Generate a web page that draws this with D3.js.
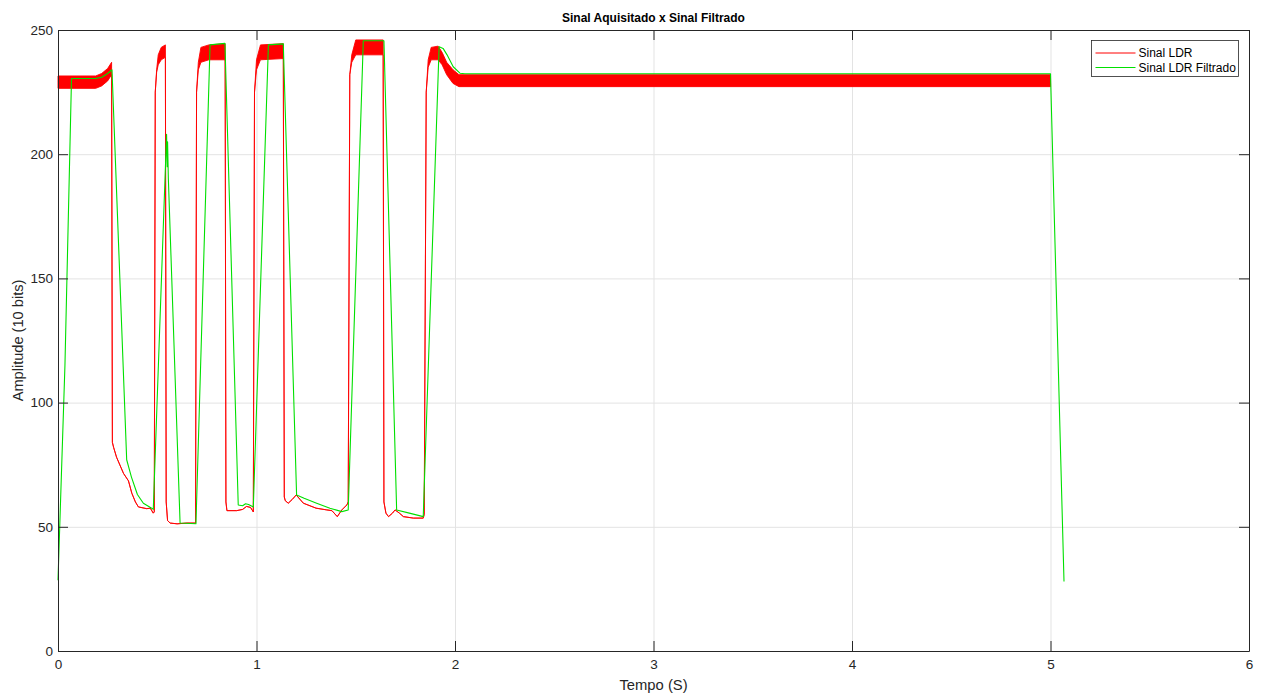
<!DOCTYPE html>
<html>
<head>
<meta charset="utf-8">
<script src="https://cdn.jsdelivr.net/npm/d3@7/dist/d3.min.js"></script>
<style>
  html, body { margin: 0; padding: 0; background: #ffffff; }
  svg { display: block; font-family: "Liberation Sans", Arial, Helvetica, sans-serif; }
</style>
</head>
<body>
<svg id="chart" width="1264" height="693"></svg>
<script>
// ---------------- DATA ----------------
const chartTitle = "Sinal Aquisitado x Sinal Filtrado";
const xLabel = "Tempo (S)";
const yLabel = "Amplitude (10 bits)";
const seriesNames = ["Sinal LDR", "Sinal LDR Filtrado"];
const xTicks = [0, 1, 2, 3, 4, 5, 6];
const yTicks = [0, 50, 100, 150, 200, 250];

// Raw LDR signal: time (s), lower and upper envelope of the noisy trace
const ldrTime = [0.000, 0.190, 0.220, 0.250, 0.270, 0.274, 0.280, 0.295, 0.330, 0.355, 0.372, 0.390, 0.405, 0.447, 0.465, 0.480, 0.485,
  0.490, 0.497, 0.505, 0.520, 0.541, 0.545, 0.552, 0.565, 0.600, 0.650, 0.693,
  0.698, 0.707, 0.720, 0.760, 0.842, 0.846, 0.851, 0.900, 0.930, 0.950, 0.970, 0.984,
  0.990, 1.000, 1.020, 1.135, 1.140, 1.145, 1.160, 1.180, 1.200, 1.236, 1.300, 1.354, 1.380, 1.407, 1.430, 1.455, 1.462,
  1.470, 1.480, 1.500, 1.638, 1.642, 1.652, 1.665, 1.685, 1.698, 1.720, 1.740, 1.790, 1.840, 1.845,
  1.855, 1.865, 1.880, 1.915, 1.935, 1.958, 1.990, 2.020, 5.000];
const ldrLow = [226.5, 226.5, 227.5, 229.5, 232.0, 84.0, 82.0, 78.0, 71.5, 68.5, 63.5, 60.0, 58.0, 57.3, 57.5, 55.5, 56.0,
  225.0, 233.0, 236.0, 238.0, 239.0, 60.0, 52.5, 51.5, 51.2, 51.5, 51.5,
  225.0, 234.0, 237.0, 238.0, 238.0, 60.0, 56.5, 56.5, 57.0, 58.2, 57.8, 56.0,
  225.0, 234.0, 238.0, 238.5, 62.0, 60.5, 59.5, 61.0, 62.8, 59.5, 57.5, 56.8, 56.5, 54.1, 56.8, 58.8, 60.0,
  232.0, 237.0, 240.0, 240.0, 60.0, 55.5, 54.1, 55.5, 56.8, 55.5, 54.1, 53.5, 53.5, 55.0,
  225.0, 235.0, 238.0, 238.0, 236.0, 232.0, 228.5, 227.2, 227.2];
const ldrHigh = [231.5, 231.5, 232.5, 234.5, 237.0, 84.0, 82.0, 78.0, 71.5, 68.5, 63.5, 60.0, 58.0, 57.3, 57.5, 55.5, 56.0,
  225.0, 234.0, 240.0, 243.0, 244.0, 60.0, 52.5, 51.5, 51.2, 51.5, 51.5,
  225.0, 237.0, 243.0, 244.0, 244.5, 60.0, 56.5, 56.5, 57.0, 58.2, 57.8, 56.0,
  225.0, 238.0, 244.0, 244.5, 62.0, 60.5, 59.5, 61.0, 62.8, 59.5, 57.5, 56.8, 56.5, 54.1, 56.8, 58.8, 60.0,
  232.0, 240.0, 246.0, 246.0, 60.0, 55.5, 54.1, 55.5, 56.8, 55.5, 54.1, 53.5, 53.5, 55.0,
  225.0, 238.0, 243.0, 243.5, 241.0, 237.0, 234.0, 232.0, 232.0];

// Filtered LDR signal
const filtTime = [0.000, 0.035, 0.068, 0.190, 0.220, 0.250, 0.272, 0.346, 0.370, 0.400, 0.430, 0.472, 0.480,
  0.547, 0.550, 0.552, 0.556, 0.615, 0.695, 0.766, 0.841, 0.908, 0.930, 0.945, 0.960, 0.984,
  1.060, 1.135, 1.202, 1.240, 1.303, 1.370, 1.430, 1.462, 1.538, 1.642, 1.706, 1.770, 1.840,
  1.920, 1.940, 1.960, 1.991, 2.025, 2.050, 5.000, 5.068];
const filtValue = [28.5, 115.0, 230.5, 230.5, 231.0, 232.5, 234.0, 77.0, 70.0, 63.0, 59.5, 57.5, 57.0,
  208.0, 195.0, 205.0, 190.0, 51.5, 51.2, 244.0, 244.6, 58.8, 58.5, 59.3, 59.0, 58.0,
  244.0, 244.4, 62.8, 61.5, 59.5, 57.5, 56.1, 56.8, 245.7, 245.7, 56.8, 55.5, 54.1,
  243.3, 242.6, 240.0, 235.2, 232.6, 232.4, 232.4, 28.0];

// ---------------- CHART ----------------
const W = 1264, H = 693;
const m = { left: 58, right: 15, top: 30, bottom: 42 };
const iw = W - m.left - m.right, ih = H - m.top - m.bottom;
const axisColor = "#262626";
const redColor = "#ff0000", greenColor = "#00e000";

const svg = d3.select("#chart");
const x = d3.scaleLinear().domain([0, 6]).range([m.left, m.left + iw]);
const y = d3.scaleLinear().domain([0, 250]).range([m.top + ih, m.top]);

// grid
const grid = svg.append("g");
grid.append("g").attr("transform", `translate(0,${m.top + ih})`)
  .call(d3.axisBottom(x).tickValues(xTicks).tickSize(-ih).tickFormat(""))
  .call(g => { g.select(".domain").remove(); g.selectAll("line").attr("stroke", "#e3e3e3"); });
grid.append("g").attr("transform", `translate(${m.left},0)`)
  .call(d3.axisLeft(y).tickValues(yTicks).tickSize(-iw).tickFormat(""))
  .call(g => { g.select(".domain").remove(); g.selectAll("line").attr("stroke", "#e3e3e3"); });

// data
const ldrData = ldrTime.map((t, i) => ({ t, lo: ldrLow[i], hi: ldrHigh[i] }));
const filtData = filtTime.map((t, i) => ({ t, v: filtValue[i] }));

svg.append("path").datum(ldrData)
  .attr("d", d3.area().x(d => x(d.t)).y0(d => y(d.lo)).y1(d => y(d.hi)))
  .attr("fill", redColor).attr("stroke", redColor).attr("stroke-width", 0.9)
  .attr("stroke-linejoin", "round");

svg.append("path").datum(filtData)
  .attr("d", d3.line().x(d => x(d.t)).y(d => y(d.v)))
  .attr("fill", "none").attr("stroke", greenColor).attr("stroke-width", 1.1)
  .attr("stroke-linejoin", "round");

// axes
const tickLen = 10;
function styleAxis(g) {
  g.select(".domain").attr("stroke", axisColor).attr("stroke-width", 1);
  g.selectAll(".tick line").attr("stroke", axisColor).attr("stroke-width", 1);
  g.selectAll(".tick text").attr("fill", axisColor).style("font-size", "13.5px")
    .style("font-family", '"Liberation Sans", Arial, sans-serif');
}
svg.append("g").attr("transform", `translate(0,${m.top + ih})`)
  .call(d3.axisBottom(x).tickValues(xTicks).tickSize(-tickLen).tickSizeOuter(0).tickPadding(8).tickFormat(d3.format("d")))
  .call(styleAxis);
svg.append("g").attr("transform", `translate(0,${m.top})`)
  .call(d3.axisTop(x).tickValues(xTicks).tickSize(-tickLen).tickSizeOuter(0).tickFormat(""))
  .call(styleAxis);
svg.append("g").attr("transform", `translate(${m.left},0)`)
  .call(d3.axisLeft(y).tickValues(yTicks).tickSize(-tickLen).tickSizeOuter(0).tickPadding(5).tickFormat(d3.format("d")))
  .call(styleAxis);
svg.append("g").attr("transform", `translate(${m.left + iw},0)`)
  .call(d3.axisRight(y).tickValues(yTicks).tickSize(-tickLen).tickSizeOuter(0).tickFormat(""))
  .call(styleAxis);

// titles
svg.append("text").attr("x", m.left + iw / 2).attr("y", 22).attr("text-anchor", "middle")
  .style("font-size", "12px").style("font-weight", "bold").attr("fill", "#000").text(chartTitle);
svg.append("text").attr("x", m.left + iw / 2).attr("y", 690).attr("text-anchor", "middle")
  .style("font-size", "14.8px").attr("fill", axisColor).text(xLabel);
svg.append("text").attr("transform", `translate(23,${m.top + ih / 2}) rotate(-90)`).attr("text-anchor", "middle")
  .style("font-size", "14.6px").attr("fill", axisColor).text(yLabel);

// legend
const lg = svg.append("g").attr("transform", "translate(1091.5,40.5)");
lg.append("rect").attr("width", 147).attr("height", 36).attr("fill", "#fff")
  .attr("stroke", axisColor).attr("stroke-width", 0.8);
const colors = [redColor, greenColor];
seriesNames.forEach((name, i) => {
  const yy = 12.5 + i * 14.5;
  lg.append("line").attr("x1", 4).attr("x2", 44).attr("y1", yy).attr("y2", yy)
    .attr("stroke", colors[i]).attr("stroke-width", 1);
  lg.append("text").attr("x", 47).attr("y", yy).attr("dy", "0.35em")
    .style("font-size", "12px").attr("fill", "#000").text(name);
});
</script>
</body>
</html>
